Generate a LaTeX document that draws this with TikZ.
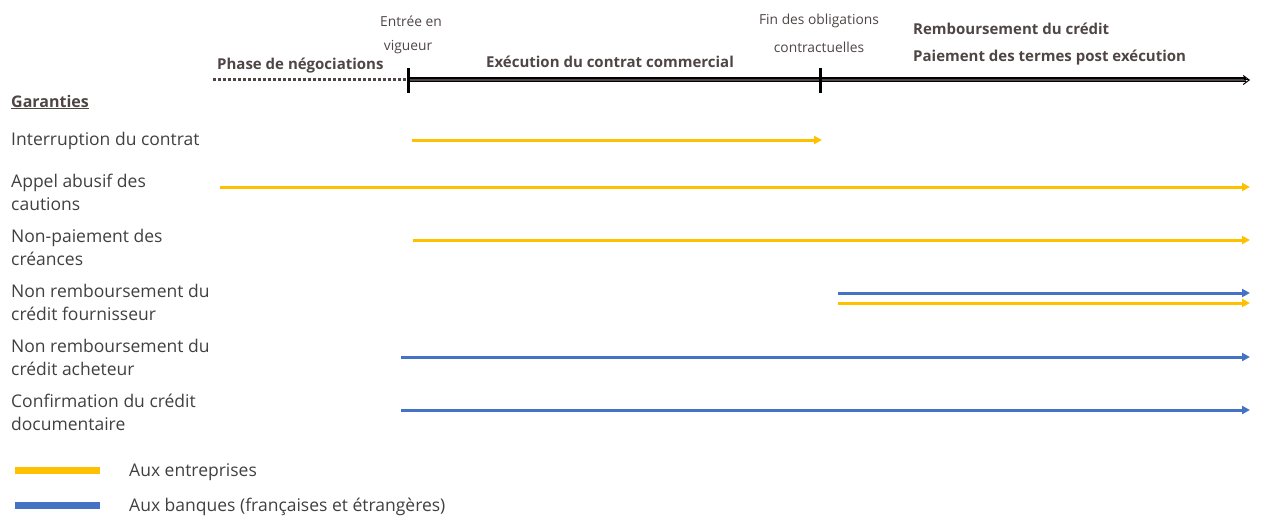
\documentclass[tikz,border=0pt]{standalone}
\usepackage{fontspec}
\setmainfont{Open Sans}
\usetikzlibrary{arrows.meta}
\definecolor{ye}{HTML}{FFC000}
\definecolor{bl}{HTML}{4472C4}
\definecolor{tx}{HTML}{404040}
\definecolor{tb}{HTML}{4F4545}
\begin{document}
\begin{tikzpicture}[x=1pt,y=-1pt,
  lab/.style={anchor=west,align=left,text=tx,font=\fontsize{17.5}{23}\selectfont,inner sep=0pt},
  bold/.style={anchor=west,text=tb,font=\fontsize{15}{18}\selectfont\bfseries,inner sep=0pt},
  small/.style={text=tb,font=\fontsize{13.8}{16}\selectfont,inner sep=0pt},
  yl/.style={ye,line width=3pt,-{Triangle[length=8pt,width=8pt]}},
  bll/.style={bl,line width=3pt,-{Triangle[length=8pt,width=8pt]}}]
\useasboundingbox (0,0) rectangle (1280,527);
% timeline
\coordinate (d0) at (213,80); \coordinate (t1) at (408,80); \coordinate (t2) at (820,80); \coordinate (te) at (1250,80);
\draw[tb,line width=3pt,dash pattern=on 3pt off 2pt] (d0) -- (t1);
\draw[black,line width=5pt] (t1) -- ([xshift=-4]te);
\draw[tb,line width=2.5pt] (t1) -- ([xshift=-4]te);
\draw[black,line width=1pt,-{Straight Barb[length=6pt,width=9pt]}] ([xshift=-6]te) -- (te);
\draw[black,line width=3pt] (408,68) -- (408,93);
\draw[black,line width=3pt] (820,68) -- (820,93);
\node[bold] (pn) at (217,66) {Phase de négociations};
\node[bold] (ex) at (486,62) {Exécution du contrat commercial};
\node[bold] (rc) at (913,29) {Remboursement du crédit};
\node[bold] (pt) at (913,58) {Paiement des termes post exécution};
\node[small] (e1) at (411,21) {Entrée en};
\node[small] (e2) at (408,47) {vigueur};
\node[small] (f1) at (819,21) {Fin des obligations};
\node[small] (f2) at (819,47) {contractuelles};
\node[anchor=west,text=tb,font=\fontsize{16}{19}\selectfont\bfseries,inner sep=0pt] (g) at (11,102) {\underline{Garanties}};
\node[lab] (r1) at (11,141) {Interruption du contrat};
\node[lab] (r2) at (11,192) {Appel abusif des\\cautions};
\node[lab] (r3) at (11,247) {Non-paiement des\\créances};
\node[lab] (r4) at (11,302) {Non remboursement du\\crédit fournisseur};
\node[lab] (r5) at (11,357) {Non remboursement du\\crédit acheteur};
\node[lab] (r6) at (11,412) {Confirmation du crédit\\documentaire};
\coordinate (a1) at (412,140); \coordinate (b1) at (822,140);
\coordinate (a2) at (220,187); \coordinate (b2) at (1250,187);
\coordinate (a3) at (413,240); \coordinate (b3) at (1250,240);
\coordinate (a4) at (838,293); \coordinate (b4) at (1250,293);
\coordinate (a5) at (838,303); \coordinate (b5) at (1250,303);
\coordinate (a6) at (401,357); \coordinate (b6) at (1250,357);
\coordinate (a7) at (401,410); \coordinate (b7) at (1250,410);
\draw[yl] (a1) -- (b1);
\draw[yl] (a2) -- (b2);
\draw[yl] (a3) -- (b3);
\draw[bll] (a4) -- (b4);
\draw[yl] (a5) -- (b5);
\draw[bll] (a6) -- (b6);
\draw[bll] (a7) -- (b7);
\coordinate (l1a) at (15,470); \coordinate (l1b) at (100,470);
\coordinate (l2a) at (15,505); \coordinate (l2b) at (100,505);
\draw[ye,line width=7pt] (l1a) -- (l1b);
\draw[bl,line width=7pt] (l2a) -- (l2b);
\node[lab] (L1) at (129,472) {Aux entreprises};
\node[lab] (L2) at (129,507) {Aux banques (françaises et étrangères)};
\end{tikzpicture}
\end{document}
